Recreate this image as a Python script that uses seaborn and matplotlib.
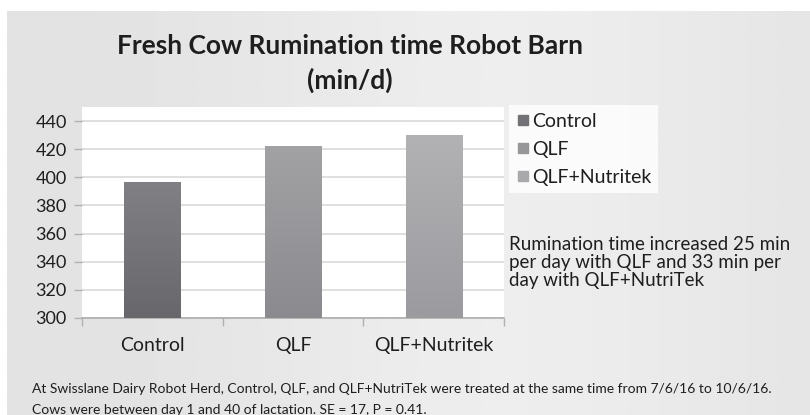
import numpy as np
import pandas as pd
import matplotlib
matplotlib.use("Agg")
import matplotlib.pyplot as plt
from matplotlib.colors import to_rgb
from matplotlib.lines import Line2D
import seaborn as sns

# chart data
groups = ["Control", "QLF", "QLF+Nutritek"]
rumination = [397, 422, 430]
y_ticks = [300, 320, 340, 360, 380, 400, 420, 440]

title = "Fresh Cow Rumination time Robot Barn\n(min/d)"
note = ("Rumination time increased 25 min\n"
        "per day with QLF and 33 min per\n"
        "day with QLF+NutriTek")
footnote = ("At Swisslane Dairy Robot Herd, Control, QLF, and QLF+NutriTek were treated at the same time from 7/6/16 to 10/6/16.\n"
            "Cows were between day 1 and 40 of lactation. SE = 17, P = 0.41.")

# bar shades: (top, bottom)
shades = {"Control": ("#818185", "#68686c"),
          "QLF": ("#a2a2a5", "#8b8b8f"),
          "QLF+Nutritek": ("#b2b2b5", "#9b9b9f")}
legend_colors = ["#727276", "#97979a", "#a9a9ac"]

sns.set_theme(style="white")
plt.rcParams["font.family"] = ["Lato", "DejaVu Sans"]

W, H = 810, 415
fig = plt.figure(figsize=(W / 100, H / 100), dpi=100)
fig.patch.set_facecolor("white")

# grey slide background with a soft horizontal gradient
bg = fig.add_axes([7 / W, 0, 1 - 7 / W, 1 - 11 / H])
xs = np.linspace(0, 1, 300)
lum = 0.885 + 0.045 * np.exp(-((xs - 0.62) / 0.35) ** 2)
bg.imshow(np.tile(lum, (10, 1)), cmap="gray", vmin=0, vmax=1, aspect="auto",
          extent=[0, 1, 0, 1])
bg.set_axis_off()

ax = fig.add_axes([82 / W, 1 - 318 / H, 422 / W, (318 - 107) / H])
df = pd.DataFrame({"group": groups, "value": rumination})
sns.barplot(data=df, x="group", y="value", hue="group", palette=[shades[g][1] for g in groups],
            width=0.4, legend=False, ax=ax, zorder=2)

ax.set_ylim(300, 450)
ax.set_xlim(-0.5, 2.5)

# vertical gradient on each bar
for patch, g in zip(ax.patches, groups):
    x0, w = patch.get_x(), patch.get_width()
    top = patch.get_y() + patch.get_height()
    c_top, c_bot = np.array(to_rgb(shades[g][0])), np.array(to_rgb(shades[g][1]))
    t = np.linspace(0, 1, 100)[:, None]
    grad = (c_top * (1 - t) + c_bot * t)[:, None, :]
    im = ax.imshow(grad, extent=[x0, x0 + w, 300, top], aspect="auto", zorder=3,
                   interpolation="bilinear")
    im.set_clip_path(patch)
    patch.set_edgecolor("#c4c4c6")
    patch.set_linewidth(0.6)

ax.set_ylim(300, 450)
ax.set_xlim(-0.5, 2.5)
ax.set_facecolor("white")
ax.set_yticks(y_ticks)
ax.set_axisbelow(True)
ax.yaxis.grid(True, color="#d6d6d6", linewidth=1.1)
for s in ["top", "right", "left"]:
    ax.spines[s].set_visible(False)
ax.spines["bottom"].set_color("#a9a9a9")
ax.spines["bottom"].set_linewidth(1.1)
ax.set_xlabel("")
ax.set_ylabel("")
ax.tick_params(axis="y", length=6, width=1, color="#b0b0b0", labelsize=13,
               labelcolor="#1e1e1e", pad=5, left=True)
ax.set_xticks([-0.5, 0.5, 1.5, 2.5], minor=True)
ax.tick_params(axis="x", which="minor", length=6, width=1, color="#b0b0b0", bottom=True)
ax.tick_params(axis="x", which="major", length=0, labelsize=14, labelcolor="#1e1e1e", pad=14)

fig.text(350 / W, 1 - 34 / H, title, ha="center", va="top", fontsize=19,
         fontweight="bold", color="#1e1e1e", linespacing=1.45)

handles = [Line2D([], [], marker="s", linestyle="", color=c, markersize=6.5) for c in legend_colors]
leg = fig.legend(handles, groups, loc="upper left", mode="expand",
                 bbox_to_anchor=(509 / W, 1 - 192 / H, 149 / W, 87 / H),
                 fontsize=14, frameon=True, fancybox=False, borderaxespad=0,
                 handlelength=0.6, handletextpad=0.2, labelspacing=0.56, borderpad=0.4)
leg.get_frame().set_facecolor("white")
leg.get_frame().set_edgecolor("none")
for t in leg.get_texts():
    t.set_color("#1e1e1e")

fig.text(509 / W, 1 - 236 / H, note, ha="left", va="top", fontsize=13.5,
         color="#1e1e1e", linespacing=1.08)

# second footnote line is partly cut by the bottom edge, as in the slide
fig.text(32 / W, 1 - 383 / H, footnote, ha="left", va="top", fontsize=10,
         color="#1e1e1e", linespacing=1.9)

fig.savefig("out.png", dpi=100)
